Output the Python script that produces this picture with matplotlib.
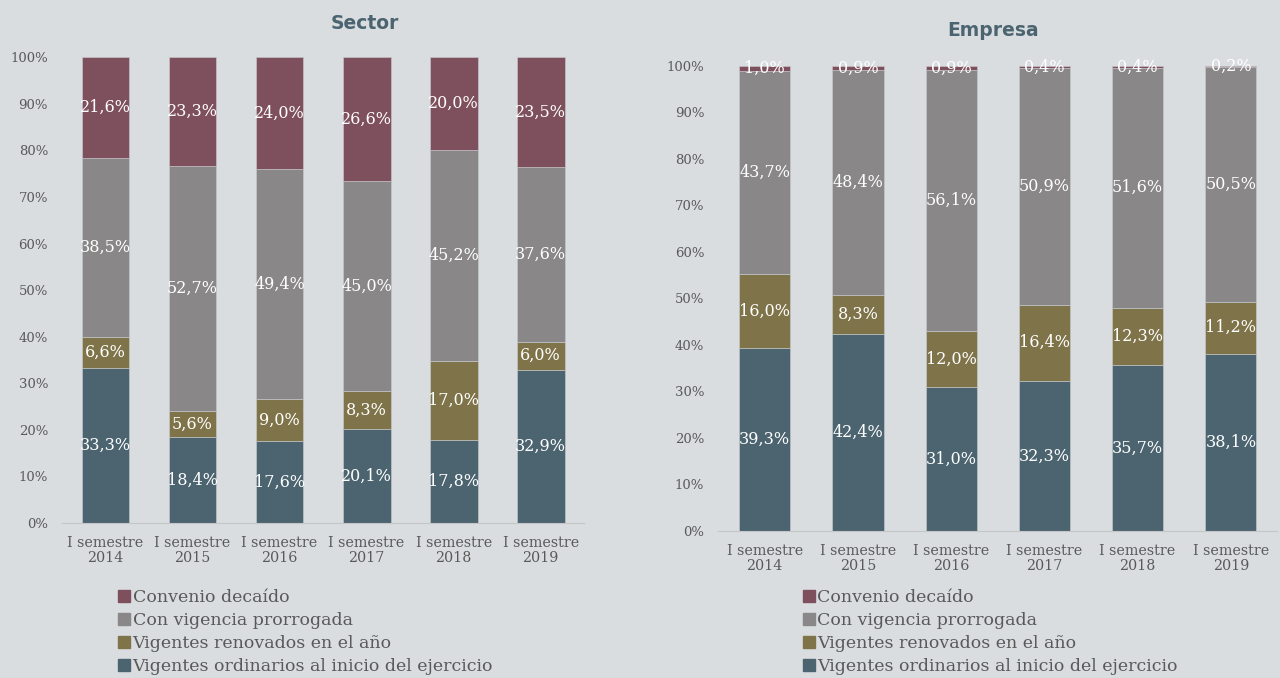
import matplotlib.pyplot as plt
import numpy as np
from matplotlib.lines import Line2D

plt.rcParams['font.family'] = ['DejaVu Serif']

years = ['I semestre\n2014', 'I semestre\n2015', 'I semestre\n2016',
         'I semestre\n2017', 'I semestre\n2018', 'I semestre\n2019']
series_names = ['Vigentes ordinarios al inicio del ejercicio',
                'Vigentes renovados en el año',
                'Con vigencia prorrogada',
                'Convenio decaído']
colors = ['#4b6470', '#7f7449', '#898788', '#7e4f5c']

# sector
sec_ordinarios = [33.3, 18.4, 17.6, 20.1, 17.8, 32.9]
sec_renovados = [6.6, 5.6, 9.0, 8.3, 17.0, 6.0]
sec_prorrogada = [38.5, 52.7, 49.4, 45.0, 45.2, 37.6]
sec_decaido = [21.6, 23.3, 24.0, 26.6, 20.0, 23.5]

# empresa
emp_ordinarios = [39.3, 42.4, 31.0, 32.3, 35.7, 38.1]
emp_renovados = [16.0, 8.3, 12.0, 16.4, 12.3, 11.2]
emp_prorrogada = [43.7, 48.4, 56.1, 50.9, 51.6, 50.5]
emp_decaido = [1.0, 0.9, 0.9, 0.4, 0.4, 0.2]

bg = '#d9dde0'
txt = '#595959'

fig = plt.figure(figsize=(12.8, 6.78), dpi=100, facecolor=bg)


def draw(ax, data):
    x = np.arange(len(years))
    bottom = np.zeros(len(years))
    for vals, c in zip(data, colors):
        vals = np.array(vals)
        ax.bar(x, vals, 0.55, bottom=bottom, color=c, edgecolor='#c9cccf', linewidth=0.4)
        for xi, b, v in zip(x, bottom, vals):
            lab = ('%.1f%%' % v).replace('.', ',')
            ax.text(xi, b + v / 2, lab, ha='center', va='center', color='white', fontsize=11.5)
        bottom += vals
    ax.set_facecolor(bg)
    ax.set_xlim(-0.5, len(years) - 0.5)
    ax.set_ylim(0, 100)
    ax.set_yticks(np.arange(0, 101, 10))
    ax.set_yticklabels(['%d%%' % v for v in range(0, 101, 10)])
    ax.set_xticks(x)
    ax.set_xticklabels(years, linespacing=1.15)
    for s in ['top', 'right', 'left']:
        ax.spines[s].set_visible(False)
    ax.spines['bottom'].set_color('#c4c6c8')
    ax.tick_params(axis='both', length=0, colors=txt)
    ax.tick_params(axis='y', pad=10, labelsize=9.5)
    ax.tick_params(axis='x', pad=9, labelsize=10.3)


ax1 = fig.add_axes([0.0484, 0.2286, 0.408, 0.687])
draw(ax1, [sec_ordinarios, sec_renovados, sec_prorrogada, sec_decaido])
ax2 = fig.add_axes([0.561, 0.2168, 0.437, 0.686])
draw(ax2, [emp_ordinarios, emp_renovados, emp_prorrogada, emp_decaido])

fig.text(0.285, 0.966, 'Sector', ha='center', va='center', fontsize=13.5,
         fontweight='heavy', color='#4b6470', family='DejaVu Sans')
fig.text(0.776, 0.955, 'Empresa', ha='center', va='center', fontsize=13.5,
         fontweight='heavy', color='#4b6470', family='DejaVu Sans')

handles = [Line2D([], [], marker='s', linestyle='', color=c, markersize=8)
           for c in colors[::-1]]
labels = series_names[::-1]
for xa, ya in [(0.090, 0.131), (0.625, 0.131)]:
    fig.legend(handles, labels, loc='upper left', bbox_to_anchor=(xa, ya),
               frameon=False, prop={'family': 'DejaVu Serif', 'size': 12.5},
               labelcolor=txt, handletextpad=0.0,
               handlelength=1.0, labelspacing=0.35, borderaxespad=0, borderpad=0)

fig.savefig('out.png', dpi=100, facecolor=bg)
